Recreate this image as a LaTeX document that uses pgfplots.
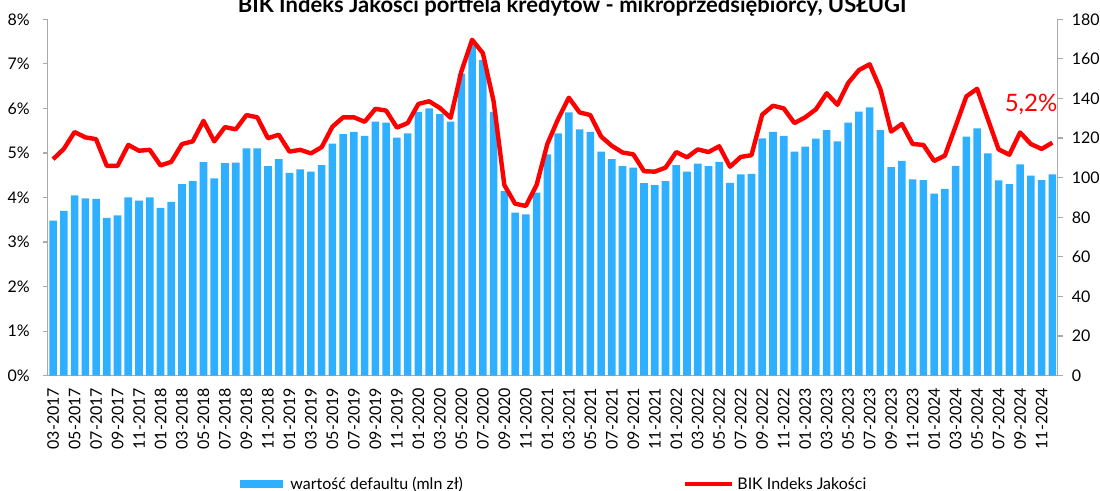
\documentclass[border=0pt]{standalone}
\usepackage{fontspec}
\setmainfont{Lato}
\usepackage{pgfplots}
\usepackage{pgfplotstable}
\pgfplotsset{compat=1.18}
\definecolor{barblue}{RGB}{46,175,255}
\definecolor{axisgray}{RGB}{170,170,170}

% defaults, mln zl (right axis)
\pgfplotstableread{
x val
0 78.3
1 83.3
2 91.1
3 89.6
4 89.3
5 79.7
6 81.0
7 90.0
8 88.4
9 90.0
10 84.8
11 87.8
12 96.8
13 98.3
14 107.8
15 99.7
16 107.3
17 107.6
18 114.8
19 114.8
20 105.8
21 109.4
22 102.4
23 104.2
24 103.1
25 106.4
26 117.2
27 122.0
28 123.1
29 121.1
30 128.3
31 127.8
32 120.2
33 122.4
34 133.2
35 135.0
36 132.1
37 128.3
38 152.6
39 167.2
40 159.5
41 133.2
42 93.2
43 82.4
44 81.5
45 92.5
46 111.8
47 122.4
48 133.0
49 124.4
50 123.1
51 113.2
52 109.4
53 105.8
54 105.1
55 97.2
56 96.3
57 98.3
58 106.4
59 103.1
60 107.1
61 105.8
62 108.0
63 97.4
64 101.7
65 101.9
66 119.9
67 123.1
68 121.1
69 113.2
70 115.7
71 119.7
72 124.0
73 118.4
74 127.8
75 133.4
76 135.5
77 124.0
78 105.3
79 108.5
80 99.2
81 98.8
82 92.0
83 94.3
84 106.0
85 120.8
86 124.9
87 112.3
88 98.6
89 96.8
90 106.7
91 101.0
92 98.8
93 101.7
}\defaults

% BIK Indeks Jakosci, % (left axis)
\pgfplotstableread{
x val
0 4.86
1 5.09
2 5.47
3 5.35
4 5.31
5 4.71
6 4.71
7 5.18
8 5.05
9 5.07
10 4.72
11 4.80
12 5.20
13 5.26
14 5.72
15 5.26
16 5.58
17 5.53
18 5.85
19 5.80
20 5.33
21 5.41
22 5.03
23 5.07
24 4.99
25 5.13
26 5.59
27 5.80
28 5.80
29 5.70
30 5.99
31 5.95
32 5.57
33 5.67
34 6.10
35 6.16
36 6.01
37 5.79
38 6.83
39 7.54
40 7.24
41 6.16
42 4.28
43 3.86
44 3.81
45 4.28
46 5.20
47 5.76
48 6.24
49 5.91
50 5.85
51 5.37
52 5.16
53 5.01
54 4.97
55 4.59
56 4.58
57 4.67
58 5.02
59 4.90
60 5.08
61 5.02
62 5.15
63 4.69
64 4.91
65 4.95
66 5.86
67 6.06
68 6.00
69 5.67
70 5.80
71 5.98
72 6.34
73 6.08
74 6.57
75 6.86
76 6.99
77 6.43
78 5.48
79 5.65
80 5.20
81 5.18
82 4.82
83 4.94
84 5.60
85 6.27
86 6.44
87 5.76
88 5.08
89 4.96
90 5.46
91 5.20
92 5.09
93 5.23
}\indeks

\pgfplotsset{
  bikbase/.style={
    at={(0,0)}, anchor=south west,
    scale only axis, width=505pt, height=178.2pt,
    xmin=-0.5, xmax=93.5,
    tick align=outside, major tick length=2.5pt,
    tick style={axisgray, line width=0.6pt},
    axis line style={axisgray, line width=0.6pt},
    tick label style={font=\fontsize{8}{9}\selectfont},
    /pgf/number format/assume math mode=true,
  },
}

\begin{document}
\begin{tikzpicture}
\begin{axis}[bikbase,
  ymin=0, ymax=180, ytick={0,20,...,180},
  axis x line*=bottom, axis y line*=right,
  yticklabel style={xshift=1pt},
  xtick={0,2,...,92},
  xticklabels={03-2017,05-2017,07-2017,09-2017,11-2017,
    01-2018,03-2018,05-2018,07-2018,09-2018,11-2018,
    01-2019,03-2019,05-2019,07-2019,09-2019,11-2019,
    01-2020,03-2020,05-2020,07-2020,09-2020,11-2020,
    01-2021,03-2021,05-2021,07-2021,09-2021,11-2021,
    01-2022,03-2022,05-2022,07-2022,09-2022,11-2022,
    01-2023,03-2023,05-2023,07-2023,09-2023,11-2023,
    01-2024,03-2024,05-2024,07-2024,09-2024,11-2024},
  xticklabel style={rotate=90, anchor=east},
  major x tick style={draw=none},
  extra x ticks={-0.5,0.5,...,93.5}, extra x tick labels={},
  extra x tick style={major tick length=2pt},
]
\addplot[ybar, bar width=3.8pt, fill=barblue, draw=none] table[x=x, y=val] {\defaults};
\end{axis}

\begin{axis}[bikbase,
  ymin=0, ymax=8, ytick={0,...,8},
  hide x axis, axis y line*=left,
  yticklabel={\pgfmathprintnumber{\tick}\%},
  yticklabel style={xshift=-3pt},
]
\addplot[red, line width=2.2pt, line join=round, mark=none] table[x=x, y=val] {\indeks};
\end{axis}

\node[font=\bfseries\fontsize{11}{13}\selectfont, anchor=base] at (262.15pt,181.5pt)
  {BIK Indeks Jakości portfela kredytów - mikroprzedsiębiorcy, USŁUGI};
\node[red, font=\fontsize{12}{14}\selectfont, anchor=base east, inner sep=0pt] at (505pt,131.9pt) {5,2\%};

% legend
\fill[barblue] (96.15pt,-56.1pt) rectangle (117.65pt,-52.2pt);
\node[anchor=west, inner sep=0pt, font=\fontsize{8}{9}\selectfont] at (121.15pt,-54.15pt) {wartość defaultu (mln zł)};
\draw[red, line width=2pt] (318.65pt,-54.15pt) -- (342.15pt,-54.15pt);
\node[anchor=west, inner sep=0pt, font=\fontsize{8}{9}\selectfont] at (344.65pt,-54.15pt) {BIK Indeks Jakości};

\pgfresetboundingbox
\path[use as bounding box] (-23.85pt,-57.65pt) rectangle (526.15pt,187.85pt);
\end{tikzpicture}
\end{document}
